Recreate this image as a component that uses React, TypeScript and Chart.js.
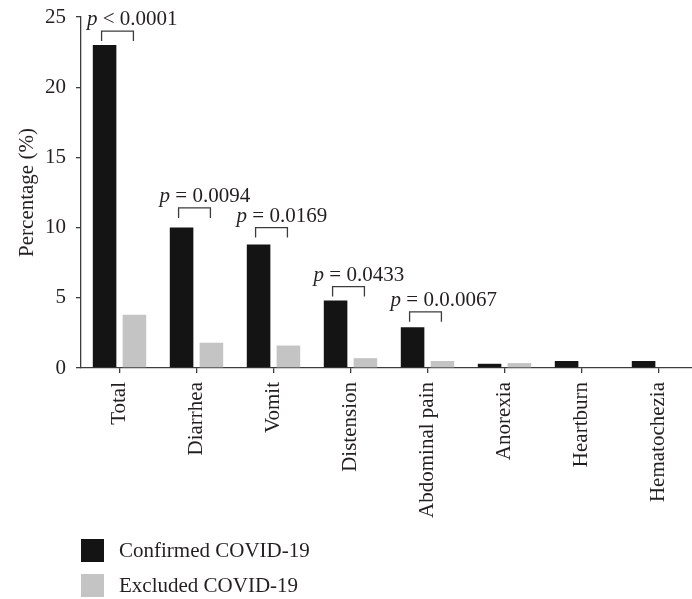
import { useEffect, useRef } from 'react';
import { Chart, registerables } from 'chart.js';

Chart.register(...registerables);

const categories = ['Total', 'Diarrhea', 'Vomit', 'Distension', 'Abdominal pain', 'Anorexia', 'Heartburn', 'Hematochezia'];
const confirmed = [23, 10, 8.8, 4.8, 2.9, 0.3, 0.5, 0.5];
const excluded = [3.8, 1.8, 1.6, 0.7, 0.5, 0.35, 0, 0];
const seriesNames = ['Confirmed COVID-19', 'Excluded COVID-19'];
const yTicks = [0, 5, 10, 15, 20, 25];
const pCategoryIndex = [0, 1, 2, 3, 4];
const pTexts = ['< 0.0001', '= 0.0094', '= 0.0169', '= 0.0433', '= 0.0.0067'];
const bracketLevels = [24, 11.4, 10, 5.8, 4];

const FONT = '"Liberation Serif", "DejaVu Serif", serif';
const TEXT = '#231f20';
const AXIS = '#3c3c3c';
const BLACK = '#141414';
const GREY = '#c3c4c3';

const annotationPlugin = {
  id: 'annotations',
  afterDraw(chart: any) {
    const ctx = chart.ctx as CanvasRenderingContext2D;
    const m0 = chart.getDatasetMeta(0);
    const m1 = chart.getDatasetMeta(1);
    const ys = chart.scales.y;
    ctx.save();
    ctx.strokeStyle = AXIS;
    ctx.lineWidth = 1.3;
    ctx.fillStyle = TEXT;
    ctx.textBaseline = 'alphabetic';
    pCategoryIndex.forEach((ci, k) => {
      const b0 = m0.data[ci];
      const b1 = m1.data[ci];
      const x1 = b0.x - 3;
      const x2 = b1.x - 1;
      const yTop = ys.getPixelForValue(bracketLevels[k]);
      ctx.beginPath();
      ctx.moveTo(x1, yTop + 10);
      ctx.lineTo(x1, yTop);
      ctx.lineTo(x2, yTop);
      ctx.lineTo(x2, yTop + 10);
      ctx.stroke();
      const tx = Math.max(x1 - 19, chart.chartArea.left + 6);
      const ty = yTop - 6;
      ctx.font = `italic 21px ${FONT}`;
      ctx.textAlign = 'left';
      ctx.fillText('p', tx, ty);
      const wp = ctx.measureText('p').width;
      ctx.font = `21px ${FONT}`;
      ctx.fillText(' ' + pTexts[k], tx + wp, ty);
    });
    // legend
    const colors = [BLACK, GREY];
    const boxX = 81;
    const boxY = [539, 574];
    ctx.font = `21px ${FONT}`;
    ctx.textBaseline = 'middle';
    seriesNames.forEach((name, i) => {
      ctx.fillStyle = colors[i];
      ctx.fillRect(boxX, boxY[i], 23, 23);
      ctx.fillStyle = TEXT;
      ctx.fillText(name, 119, boxY[i] + 12);
    });
    ctx.restore();
  },
};

export default function App() {
  const ref = useRef<HTMLCanvasElement | null>(null);
  useEffect(() => {
    if (!ref.current) return;
    Chart.defaults.font.family = FONT;
    const chart = new Chart(ref.current, {
      type: 'bar',
      data: {
        labels: categories,
        datasets: [
          { label: seriesNames[0], data: confirmed, backgroundColor: BLACK, borderWidth: 0 },
          { label: seriesNames[1], data: excluded, backgroundColor: GREY, borderWidth: 0 },
        ],
      },
      options: {
        animation: false,
        responsive: true,
        maintainAspectRatio: false,
        datasets: { bar: { categoryPercentage: 0.775, barPercentage: 0.79 } },
        layout: { padding: { top: 17, left: 0, right: 0, bottom: 0 } },
        plugins: { legend: { display: false }, tooltip: { enabled: false } },
        scales: {
          x: {
            offset: true,
            grid: { display: true, drawOnChartArea: false, drawTicks: true, tickLength: 5, color: AXIS, lineWidth: 1.3, offset: false },
            border: { display: true, color: AXIS, width: 1.3 },
            ticks: { maxRotation: 90, minRotation: 90, padding: 9, color: TEXT, font: { size: 21, family: FONT, lineHeight: 0.5 } },
            afterFit: (s: any) => { s.height = 231; },
          },
          y: {
            min: 0,
            max: 25,
            grid: { display: true, drawOnChartArea: false, drawTicks: true, tickLength: 5, color: AXIS, lineWidth: 1.3 },
            border: { display: true, color: AXIS, width: 1.3 },
            ticks: { padding: 10, color: TEXT, font: { size: 21, family: FONT, lineHeight: 0.5 } },
            afterBuildTicks: (s: any) => { s.ticks = yTicks.map((v) => ({ value: v })); },
            title: { display: true, text: 'Percentage (%)', color: TEXT, font: { size: 21, family: FONT }, padding: { top: 15, bottom: 0 } },
            afterFit: (s: any) => { s.width = 81; },
          },
        },
      },
      plugins: [annotationPlugin],
    } as any);
    return () => chart.destroy();
  }, []);
  return (
    <div style={{ position: 'fixed', left: 0, top: 0, width: 692, height: 599, overflow: 'hidden', background: '#fff' }}>
      <div style={{ position: 'relative', width: 697, height: 599 }}>
        <canvas ref={ref} />
      </div>
    </div>
  );
}
